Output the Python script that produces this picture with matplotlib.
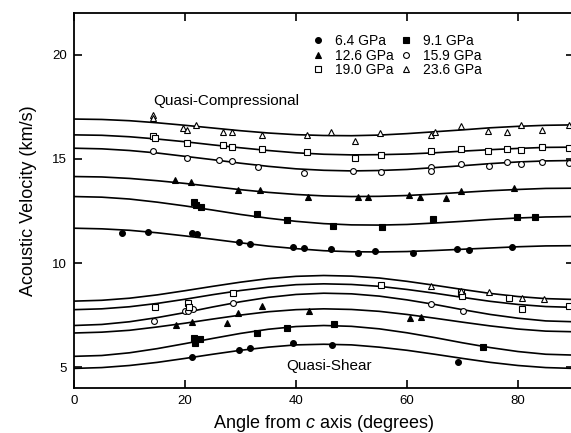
import matplotlib
matplotlib.use('Agg')
import matplotlib.pyplot as plt
from matplotlib.lines import Line2D

plt.rcParams['font.family'] = ['Liberation Sans', 'DejaVu Sans']
plt.rcParams['mathtext.fontset'] = 'custom'
plt.rcParams['mathtext.it'] = 'Liberation Sans:italic'
plt.rcParams['mathtext.rm'] = 'Liberation Sans'

# angle grid of the model curves (deg)
angles = list(range(0, 95, 5))

pressures = ['6.4 GPa', '9.1 GPa', '12.6 GPa', '15.9 GPa', '19.0 GPa', '23.6 GPa']

# quasi-compressional model curves (km/s), read every 5 deg
qp_64 = [11.67, 11.64, 11.57, 11.45, 11.30, 11.14, 10.97, 10.81, 10.69, 10.59,
         10.54, 10.53, 10.55, 10.60, 10.66, 10.72, 10.78, 10.82, 10.83]
qp_91 = [13.19, 13.16, 13.07, 12.92, 12.74, 12.54, 12.33, 12.15, 12.00, 11.89,
         11.83, 11.82, 11.85, 11.92, 12.00, 12.09, 12.16, 12.21, 12.23]
qp_126 = [14.15, 14.13, 14.06, 13.95, 13.82, 13.67, 13.52, 13.39, 13.29, 13.22,
          13.19, 13.20, 13.24, 13.31, 13.39, 13.47, 13.53, 13.58, 13.59]
qp_159 = [15.51, 15.48, 15.40, 15.28, 15.12, 14.96, 14.79, 14.64, 14.52, 14.45,
          14.42, 14.44, 14.49, 14.58, 14.67, 14.77, 14.85, 14.90, 14.92]
qp_190 = [16.15, 16.13, 16.06, 15.95, 15.82, 15.67, 15.53, 15.40, 15.29, 15.22,
          15.19, 15.20, 15.23, 15.29, 15.37, 15.44, 15.50, 15.55, 15.56]
qp_236 = [16.91, 16.89, 16.83, 16.73, 16.61, 16.48, 16.35, 16.24, 16.16, 16.12,
          16.11, 16.14, 16.21, 16.30, 16.39, 16.49, 16.56, 16.61, 16.63]

# quasi-shear model curves (km/s)
qs_64 = [4.94, 4.98, 5.08, 5.23, 5.42, 5.62, 5.81, 5.96, 6.07, 6.10,
         6.07, 5.96, 5.81, 5.62, 5.42, 5.23, 5.08, 4.98, 4.94]
qs_91 = [5.52, 5.56, 5.69, 5.89, 6.13, 6.38, 6.62, 6.82, 6.95, 7.00,
         6.96, 6.84, 6.65, 6.42, 6.17, 5.94, 5.75, 5.62, 5.58]
qs_126 = [6.64, 6.68, 6.77, 6.93, 7.11, 7.31, 7.50, 7.66, 7.76, 7.80,
          7.77, 7.68, 7.53, 7.35, 7.16, 6.98, 6.83, 6.73, 6.70]
qs_159 = [7.00, 7.05, 7.18, 7.38, 7.62, 7.89, 8.14, 8.35, 8.49, 8.55,
          8.52, 8.41, 8.23, 8.01, 7.76, 7.53, 7.35, 7.22, 7.18]
qs_190 = [7.76, 7.80, 7.90, 8.06, 8.26, 8.48, 8.68, 8.84, 8.96, 9.00,
          8.97, 8.88, 8.73, 8.55, 8.35, 8.16, 8.01, 7.91, 7.87]
qs_236 = [8.17, 8.21, 8.31, 8.47, 8.67, 8.88, 9.08, 9.25, 9.36, 9.40,
          9.37, 9.28, 9.12, 8.93, 8.73, 8.54, 8.39, 8.29, 8.25]

# measured points: angle (deg), velocity (km/s)
d64_ang = [8.6, 13.3, 21.2, 22.1, 29.7, 31.7, 39.5, 41.4, 46.3, 51.2, 54.2, 61.1, 69.0, 71.1, 79.0,
           21.3, 29.7, 31.7, 39.5, 46.4, 69.1]
d64_vel = [11.43, 11.47, 11.43, 11.39, 11.02, 10.91, 10.75, 10.70, 10.66, 10.50, 10.59, 10.50, 10.66, 10.63, 10.75,
           5.47, 5.84, 5.93, 6.14, 6.06, 5.25]

d91_ang = [21.6, 21.9, 22.8, 32.9, 38.3, 46.7, 55.5, 64.6, 79.8, 83.0,
           21.6, 21.8, 22.7, 33.0, 38.4, 46.8, 73.7]
d91_vel = [12.95, 12.79, 12.68, 12.34, 12.07, 11.79, 11.73, 12.12, 12.20, 12.23,
           6.38, 6.14, 6.33, 6.65, 6.89, 7.05, 5.98]

d126_ang = [18.2, 21.0, 29.5, 33.6, 42.2, 51.2, 53.0, 60.4, 62.3, 67.0, 69.8, 79.3,
            18.4, 21.2, 27.5, 29.6, 33.8, 42.3, 60.5, 62.5]
d126_vel = [13.99, 13.89, 13.50, 13.51, 13.19, 13.19, 13.16, 13.27, 13.16, 13.11, 13.48, 13.59,
            7.02, 7.18, 7.13, 7.60, 7.95, 7.69, 7.34, 7.42]

d159_ang = [14.3, 20.4, 26.1, 28.5, 33.2, 41.4, 50.2, 55.3, 64.3, 64.3, 69.8, 74.8, 78.1, 80.5, 84.4, 89.2,
            14.5, 20.0, 20.6, 21.4, 28.6, 64.4, 70.0]
d159_vel = [15.38, 15.06, 14.94, 14.90, 14.63, 14.34, 14.42, 14.39, 14.63, 14.42, 14.76, 14.68, 14.86, 14.76, 14.87, 14.82,
            7.23, 7.71, 7.71, 7.79, 8.09, 8.01, 7.69]

d190_ang = [14.3, 14.6, 20.3, 26.8, 28.5, 33.8, 41.9, 50.6, 55.3, 64.3, 69.7, 74.6, 78.1, 80.5, 84.4, 89.1,
            14.6, 20.5, 20.8, 28.6, 55.4, 69.8, 69.9, 78.3, 80.7, 89.2]
d190_vel = [16.11, 16.00, 15.75, 15.67, 15.59, 15.47, 15.35, 15.06, 15.18, 15.38, 15.47, 15.40, 15.47, 15.43, 15.56, 15.54,
            7.90, 8.06, 7.90, 8.57, 8.94, 8.62, 8.43, 8.30, 7.79, 7.95]

d236_ang = [14.3, 14.2, 19.7, 20.3, 22.0, 26.8, 28.5, 33.8, 41.9, 46.3, 50.6, 55.1, 64.3, 65.0, 69.7, 74.6, 78.1,
            80.5, 84.4, 89.2,
            64.4, 69.8, 74.8, 80.7, 84.6]
d236_vel = [17.12, 16.96, 16.48, 16.39, 16.63, 16.31, 16.31, 16.15, 16.15, 16.27, 15.88, 16.23, 16.15, 16.28, 16.59, 16.36, 16.31,
            16.60, 16.39, 16.60,
            8.89, 8.67, 8.59, 8.30, 8.25]

fig = plt.figure(figsize=(5.71, 4.33), dpi=100)
ax = fig.add_axes([74 / 571, 45 / 433, 499.5 / 571, 375 / 433])

for curve in [qp_64, qp_91, qp_126, qp_159, qp_190, qp_236,
              qs_64, qs_91, qs_126, qs_159, qs_190, qs_236]:
    ax.plot(angles, curve, color='black', lw=1.2, zorder=2)

styles = [('o', 'black'), ('s', 'black'), ('^', 'black'),
          ('o', 'none'), ('s', 'none'), ('^', 'none')]
sizes = [4.2, 4.2, 4.5, 4.2, 4.2, 4.5]
data = [(d64_ang, d64_vel), (d91_ang, d91_vel), (d126_ang, d126_vel),
        (d159_ang, d159_vel), (d190_ang, d190_vel), (d236_ang, d236_vel)]

handles = []
for (a, v), (m, fc), ms, lab in zip(data, styles, sizes, pressures):
    ax.plot(a, v, ls='none', marker=m, ms=ms, mfc=fc if fc != 'none' else 'white',
            mec='black', mew=0.8, zorder=3)
    handles.append(Line2D([], [], ls='none', marker=m, ms=ms,
                          mfc=fc if fc != 'none' else 'white', mec='black', mew=0.8, label=lab))

order = [0, 2, 4, 1, 3, 5]
leg = ax.legend([handles[i] for i in order], [pressures[i] for i in order],
                ncol=2, frameon=False, fontsize=10, loc='upper left',
                bbox_to_anchor=(0.458, 0.97), handlelength=0.8, handletextpad=0.85,
                labelspacing=0.05, columnspacing=0.45, borderpad=0.2)

ax.text(14.2, 17.80, 'Quasi-Compressional', fontsize=11, ha='left', va='center')
ax.text(38.3, 5.05, 'Quasi-Shear', fontsize=11, ha='left', va='center')

ax.set_xlim(0, 90)
ax.set_ylim(4, 22)
ax.set_xticks([0, 20, 40, 60, 80])
ax.set_yticks([5, 10, 15, 20])
ax.tick_params(direction='in', length=6, width=1.2, labelsize=9.5,
               top=True, right=True, pad=5)
for s in ax.spines.values():
    s.set_linewidth(1.3)

ax.set_xlabel('Angle from $c$ axis (degrees)', fontsize=13, labelpad=4)
ax.set_ylabel('Acoustic Velocity (km/s)', fontsize=13, labelpad=11)

fig.savefig('out.png', dpi=100)
